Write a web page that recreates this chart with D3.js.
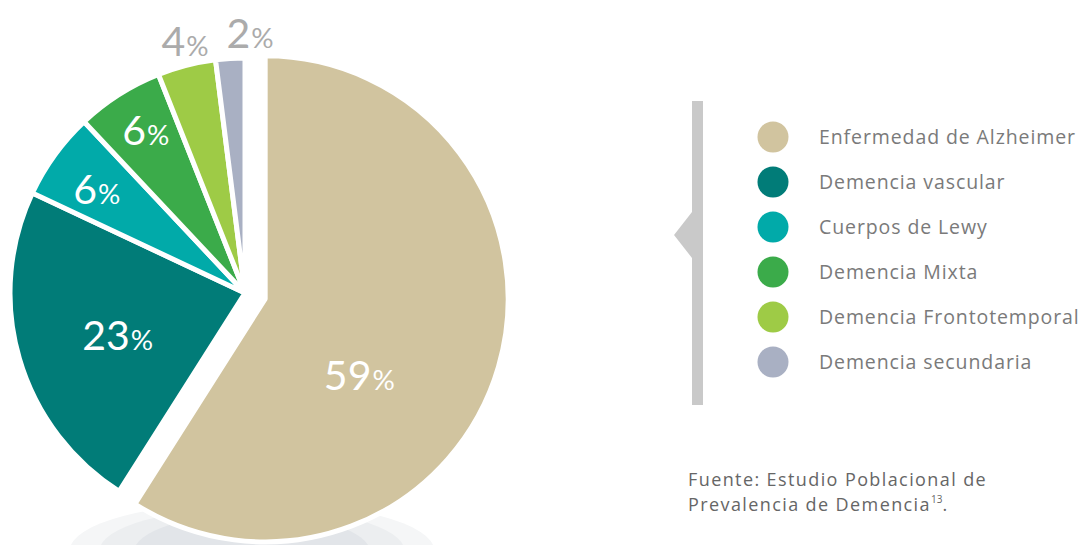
<!DOCTYPE html>
<html>
<head>
<meta charset="utf-8">
<script src="https://cdn.jsdelivr.net/npm/d3@7"></script>
<style>
  body { margin: 0; background: #fff; }
  svg { display: block; }
</style>
</head>
<body>
<div id="chart"></div>
<script>
var width = 1083,
    height = 545;

// data
var categories = ["Enfermedad de Alzheimer", "Demencia vascular", "Cuerpos de Lewy",
                  "Demencia Mixta", "Demencia Frontotemporal", "Demencia secundaria"];
var values = [59, 23, 6, 6, 4, 2];
var colors = ["#d1c49f", "#017c78", "#01aaa9", "#3bab4a", "#9ecb46", "#a9b0c3"];
var sourceLines = ["Fuente: Estudio Poblacional de", "Prevalencia de Demencia"];

var cx = 245, cy = 293, radius = 235, bigRadius = 243;

var svg = d3.select("#chart").append("svg")
    .attr("width", width)
    .attr("height", height);

// soft shadow under the pie
svg.append("ellipse").attr("cx", 252).attr("cy", 550).attr("rx", 182).attr("ry", 48).attr("fill", "#f5f6f7");
svg.append("ellipse").attr("cx", 252).attr("cy", 550).attr("rx", 152).attr("ry", 42).attr("fill", "#eceef0");
svg.append("ellipse").attr("cx", 252).attr("cy", 552).attr("rx", 118).attr("ry", 38).attr("fill", "#e2e5e9");

var pie = d3.pie().sort(null).value(function(d) { return d; });
var arcs = pie(values);

var arc = d3.arc().innerRadius(0)
    .outerRadius(function(d) { return d.index === 0 ? bigRadius : radius; });

var g = svg.append("g").attr("transform", "translate(" + cx + "," + cy + ")");

// first slice is pulled out along its bisector
function offset(d, i) {
  if (i !== 0) return [0, 0];
  var a = (d.startAngle + d.endAngle) / 2;
  return [Math.sin(a) * 21, -Math.cos(a) * 21];
}

g.selectAll("path.slice")
  .data(arcs)
  .enter().append("path")
    .attr("class", "slice")
    .attr("d", arc)
    .attr("transform", function(d, i) { var o = offset(d, i); return "translate(" + o[0] + "," + o[1] + ")"; })
    .attr("fill", function(d, i) { return colors[i]; })
    .attr("stroke", "#fff")
    .attr("stroke-width", 5)
    .attr("stroke-linejoin", "round");

// label placement: radius factor and angle nudge (degrees)
var labelLayout = [[0.5, 23], [0.57, -2], [0.77, -1], [0.81, 1], [1.1, 1], [1.107, 4.7]];

g.selectAll("text.pct")
  .data(arcs)
  .enter().append("text")
    .attr("class", "pct")
    .attr("transform", function(d, i) {
      var o = offset(d, i);
      var lr = labelLayout[i][0] * (i === 0 ? bigRadius : radius);
      var a = (d.startAngle + d.endAngle) / 2 + labelLayout[i][1] * Math.PI / 180;
      return "translate(" + (o[0] + Math.sin(a) * lr) + "," + (o[1] - Math.cos(a) * lr) + ")";
    })
    .attr("text-anchor", "middle")
    .attr("dy", "0.36em")
    .attr("font-family", "Lato, 'Open Sans', sans-serif")
    .attr("font-size", 41)
    .attr("fill", function(d) { return d.data >= 5 ? "#fff" : "#ababab"; })
    .each(function(d) {
      var t = d3.select(this);
      t.append("tspan").text(d.data);
      t.append("tspan").attr("font-size", "0.68em").attr("dx", 1).text("%");
    });

// legend bracket
var legend = svg.append("g");
legend.append("rect")
    .attr("x", 692).attr("y", 101).attr("width", 11).attr("height", 304)
    .attr("fill", "#c9c9c9");
legend.append("path")
    .attr("d", "M692,212 L674,235 L692,258 Z")
    .attr("fill", "#c9c9c9");

var legendY = d3.scalePoint().domain(categories).range([137, 362]);

var items = legend.selectAll("g.item")
  .data(categories)
  .enter().append("g")
    .attr("class", "item")
    .attr("transform", function(d) { return "translate(773," + legendY(d) + ")"; });

items.append("circle")
    .attr("r", 15.5)
    .attr("fill", function(d, i) { return colors[i]; });

items.append("text")
    .attr("x", 46)
    .attr("dy", "0.36em")
    .attr("font-family", "'Open Sans', Roboto, sans-serif")
    .attr("font-size", 19.5)
    .attr("letter-spacing", 0.9)
    .attr("fill", "#7a7a7a")
    .text(function(d) { return d; });

// source note
var src = svg.append("text")
    .attr("font-family", "'Open Sans', Roboto, sans-serif")
    .attr("font-size", 18)
    .attr("letter-spacing", 1.4)
    .attr("fill", "#666");
src.append("tspan").attr("x", 688).attr("y", 486).text(sourceLines[0]);
src.append("tspan").attr("x", 688).attr("y", 511).text(sourceLines[1]);
src.append("tspan").attr("font-size", 10).attr("letter-spacing", 0).attr("dy", -8).text("13");
src.append("tspan").attr("dy", 8).text(".");
</script>
</body>
</html>
